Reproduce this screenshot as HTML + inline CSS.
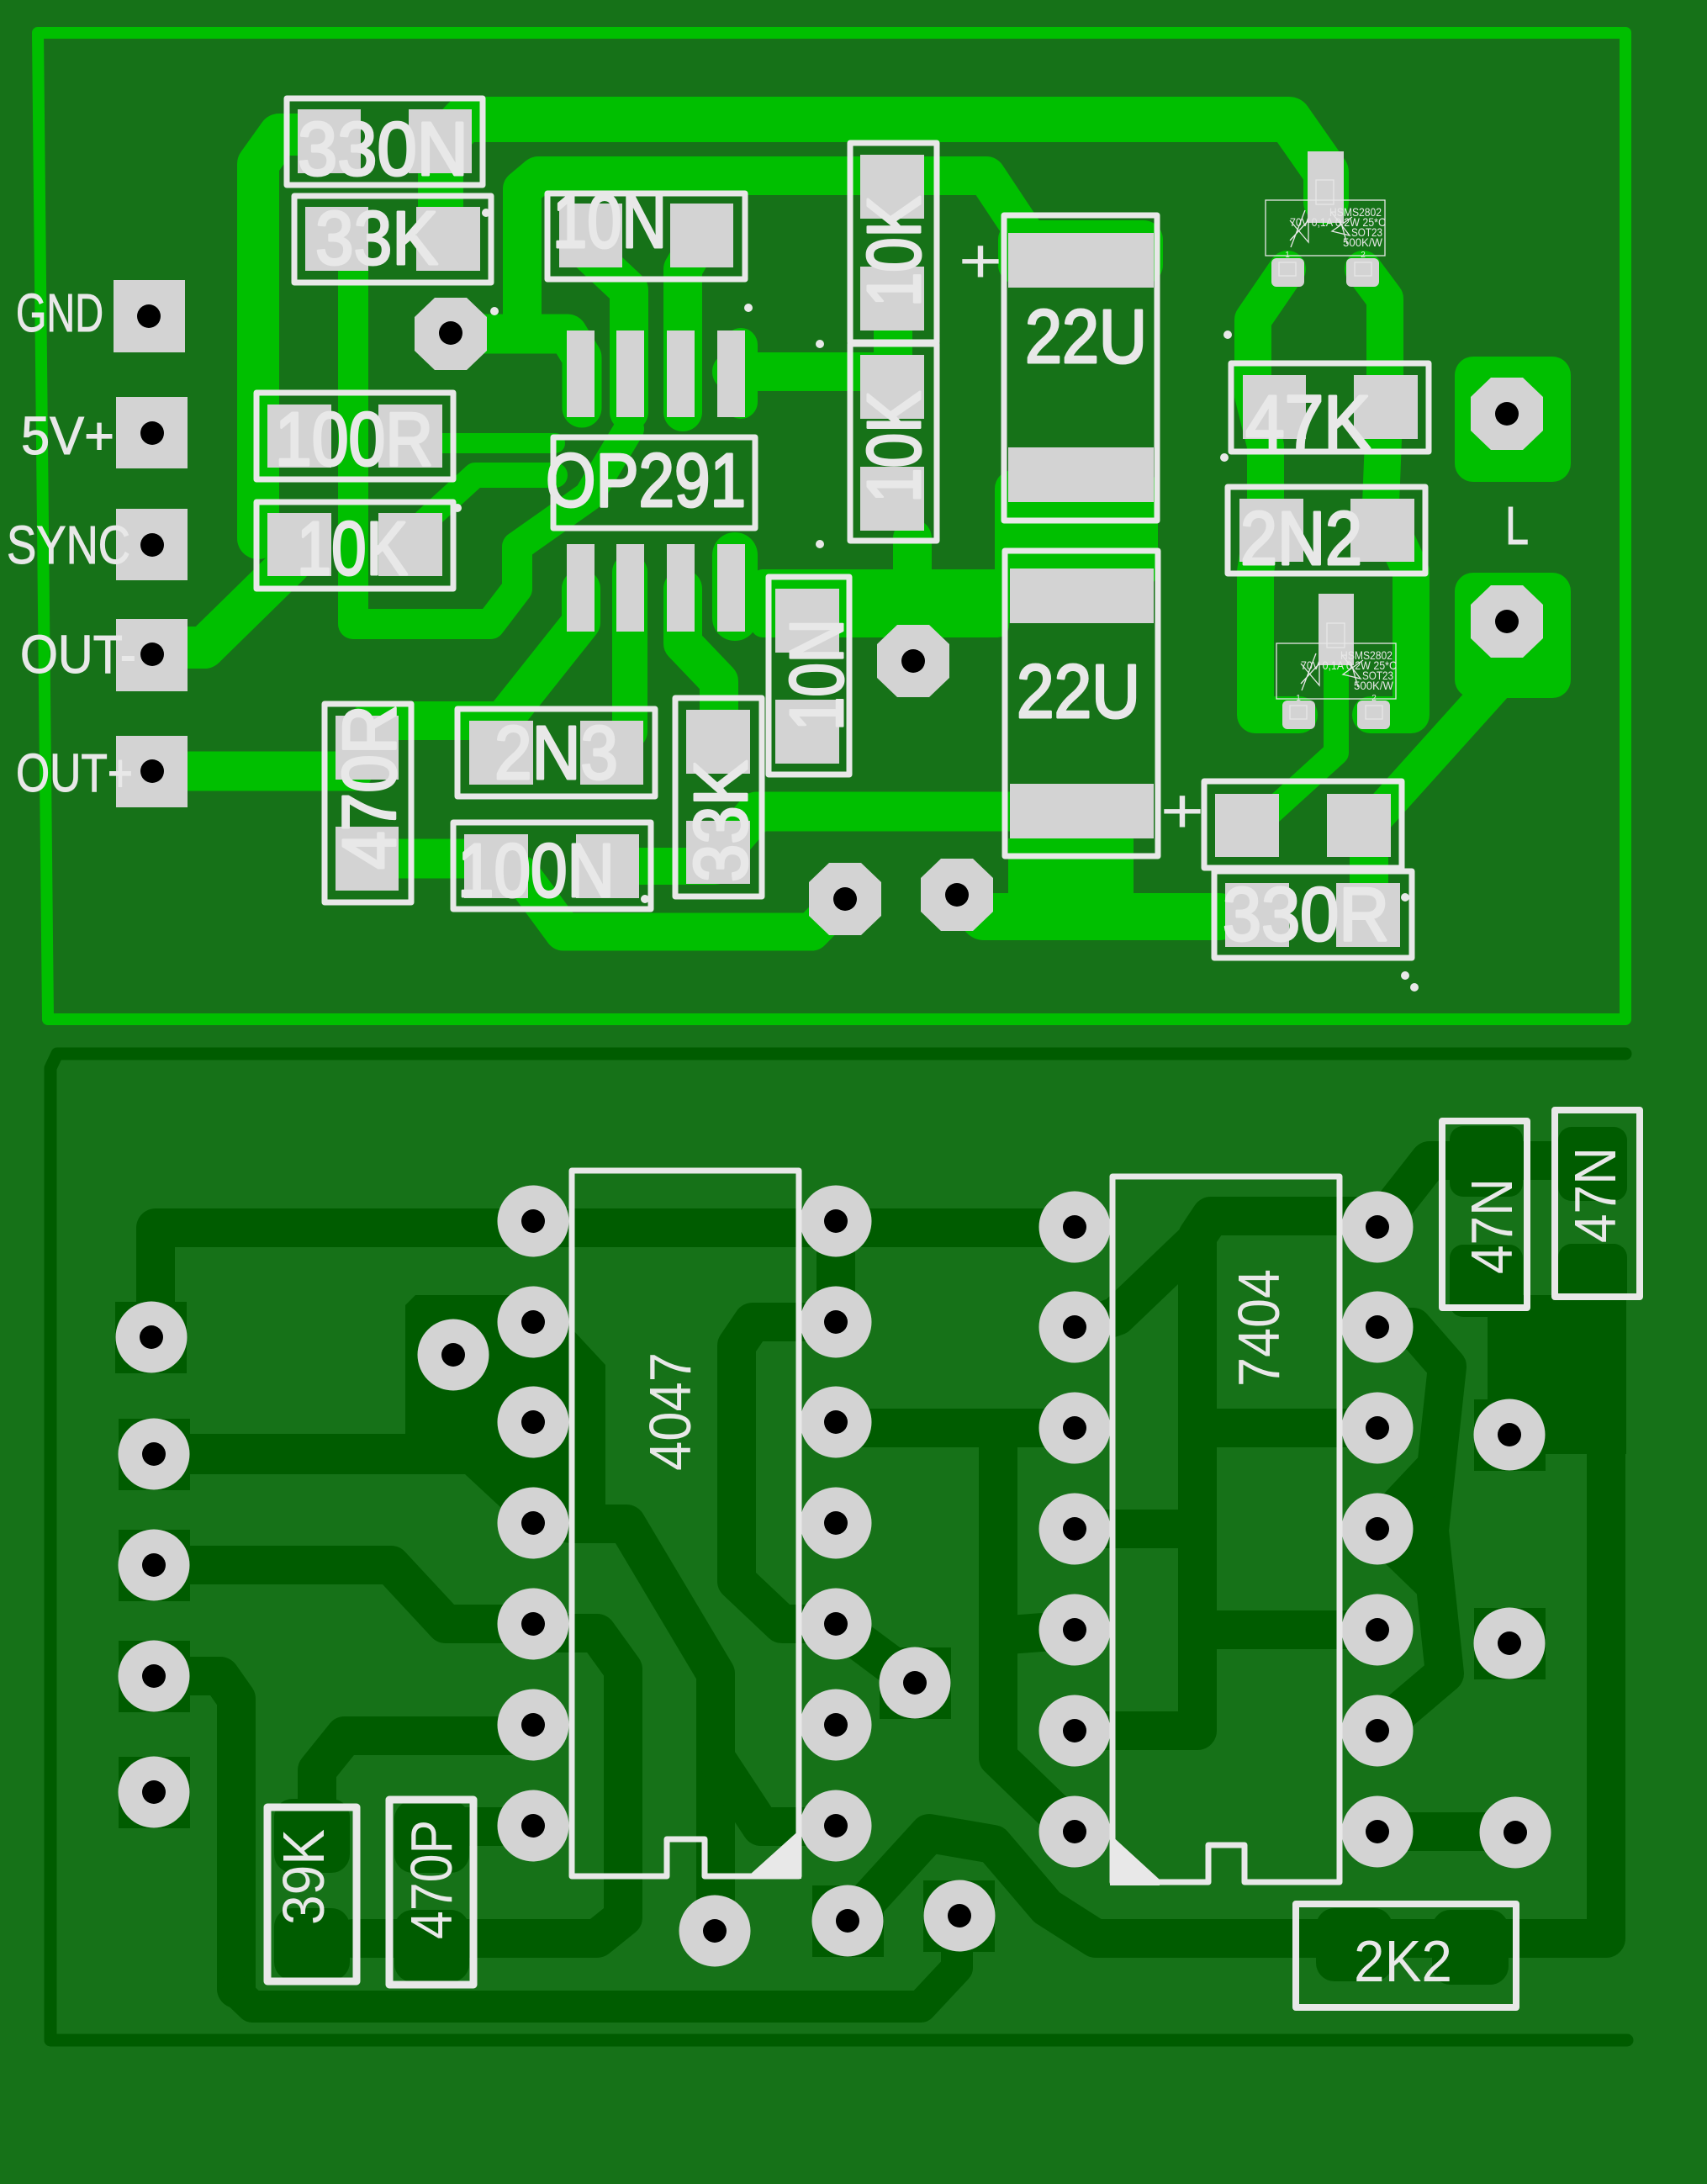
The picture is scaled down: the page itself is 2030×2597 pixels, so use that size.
<!DOCTYPE html>
<html><head><meta charset="utf-8"><title>PCB</title>
<style>
html,body{margin:0;padding:0;background:#167218}
svg{display:block}
text{font-family:"Liberation Sans",sans-serif;fill:#e8e8e8}
</style></head>
<body>
<svg xmlns="http://www.w3.org/2000/svg" width="2030" height="2597" viewBox="0 0 2030 2597">
<defs>
<polygon id="oct" points="-19,-43 19,-43 43,-20 43,20 19,43 -19,43 -43,20 -43,-20"/>
</defs>
<rect width="2030" height="2597" fill="#167218"/>

<!-- bottom board dark copper -->
<g fill="none" stroke="#005c00" stroke-width="46" stroke-linecap="round" stroke-linejoin="round">
<path d="M1933 1253 L68 1253 L60 1270 L60 2426 L1935 2426" stroke-width="15"/>
<path d="M185 1590 L185 1460 L1278 1460"/>
<path d="M994 1452 L994 1571"/>
<path d="M680 1812 L745 1812 L851 1990 L851 2296"/>
<path d="M994 1572 L895 1572 L876 1600 L876 1880 L930 1931 L994 1931"/>
<path d="M994 1931 L1088 2001"/>
<path d="M851 2090 L905 2172 L994 2172"/>
<path d="M183 1861 L465 1861 L530 1931 L634 1931"/>
<path d="M183 1993 L262 1993 L281 2020 L281 2365"/>
<path d="M278 2365 L300 2386 L1095 2386 L1138 2340 L1138 2278" stroke-width="38"/>
<path d="M634 2064 L410 2064 L377 2105 L377 2180"/>
<path d="M514 2172 L634 2172"/>
<path d="M640 1942 L710 1942 L741 1985 L741 2280 L710 2305 L420 2305"/>
<path d="M1278 2058 L1424 2058 L1424 1470 L1440 1446 L1638 1446"/>
<path d="M1290 1578 L1328 1565 L1418 1479"/>
<path d="M1278 1818 L1424 1818"/>
<path d="M1424 1698 L1638 1698"/>
<path d="M1424 1938 L1638 1938"/>
<path d="M994 1692 L1015 1698 L1278 1698"/>
<path d="M1187 1698 L1187 2090 L1278 2178"/>
<path d="M1187 1945 L1278 1938"/>
<path d="M1638 1459 L1700 1380 L1890 1380"/>
<path d="M1638 1578 L1680 1578 L1721 1625 L1700 1820 L1718 1990 L1638 2058"/>
<path d="M1638 1818 L1702 1750"/>
<path d="M1638 1818 L1702 1880"/>
<path d="M1638 2178 L1802 2178"/>
<path d="M1910 1700 L1910 2305 L1303 2305 L1245 2268 L1181 2193 L1105 2180 L1010 2284"/>
</g>
<g fill="#005c00">
<polygon points="482,1552 494,1540 634,1540 680,1580 720,1623 720,1800 680,1835 634,1830 595,1792 553,1753 183,1753 183,1705 482,1705"/>
<rect x="1769" y="1540" width="165" height="189"/>
<rect x="1724" y="1339" width="87" height="84" rx="16"/>
<rect x="1724" y="1480" width="87" height="86" rx="16"/>
<rect x="1853" y="1340" width="82" height="88" rx="16"/>
<rect x="1853" y="1479" width="82" height="75" rx="16"/>
<rect x="326" y="2139" width="90" height="88" rx="22"/>
<rect x="326" y="2269" width="90" height="86" rx="22"/>
<rect x="469" y="2141" width="89" height="86" rx="22"/>
<rect x="469" y="2271" width="89" height="86" rx="22"/>
<rect x="1565" y="2269" width="91" height="87" rx="22"/>
<rect x="1703" y="2271" width="91" height="89" rx="22"/>
<rect x="137" y="1548" width="85" height="85"/>
<rect x="141" y="1687" width="85" height="85"/>
<rect x="141" y="1819" width="85" height="85"/>
<rect x="141" y="1951" width="85" height="85"/>
<rect x="141" y="2089" width="85" height="85"/>
<rect x="1046" y="1959" width="85" height="85"/>
<rect x="966" y="2242" width="85" height="85"/>
<rect x="1098" y="2236" width="85" height="85"/>
<rect x="1753" y="1664" width="85" height="85"/>
<rect x="1753" y="1912" width="85" height="85"/>
</g>

<!-- top board bright copper -->
<g fill="none" stroke="#00bf00" stroke-width="46" stroke-linecap="round" stroke-linejoin="round">
<path d="M45 39 L1933 39 L1933 1212 L57 1212 Z" stroke-width="14"/>
<path d="M524 280 L524 172 L552 142 L1533 142 L1577 205 L1577 240" stroke-width="54"/>
<path d="M400 160 L332 160 L307 195 L307 640" stroke-width="50"/>
<path d="M243 770 L181 770" stroke-width="50"/>
<path d="M243 770 L345 670" stroke-width="50"/>
<path d="M536 397 L675 397 L692 425 L692 485" stroke-width="47"/>
<path d="M621 397 L621 225 L640 209 L1173 209 L1240 310"/>
<rect x="1210" y="285" width="150" height="30" stroke-width="46" stroke-linecap="butt"/>
<path d="M700 300 L748 345 L748 490"/>
<path d="M835 280 L812 320 L812 490"/>
<path d="M881 410 L881 478" stroke-width="40"/>
<path d="M870 442 L1060 442"/>
<path d="M1062 380 L1062 440" stroke-width="46"/>
<path d="M420 320 L420 742 L583 742 L615 700 L615 650 L700 590 L748 510" stroke-width="36"/>
<path d="M525 527 L660 527" stroke-width="24"/>
<path d="M505 620 L565 565 L660 565" stroke-width="30"/>
<path d="M1085 640 L1085 690"/>
<path d="M691 700 L691 740 L598 857 L440 857"/>
<path d="M749 680 L749 870" stroke-width="42"/>
<path d="M812 700 L812 765 L855 810 L855 850"/>
<path d="M874 660 L874 735" stroke-width="54"/>
<path d="M225 917 L420 917" stroke-width="47"/>
<path d="M440 1021 L590 1021" stroke-width="47"/>
<path d="M760 1030 L850 1030" stroke-width="44"/>
<path d="M870 1000 L900 965 L1210 965" stroke-width="47"/>
<path d="M620 1040 L670 1108 L965 1108 L1003 1069" stroke-width="45"/>
<path d="M1531 320 L1490 380 L1490 470 L1505 530 L1505 600 L1493 680 L1493 850 L1545 850" stroke-width="44"/>
<path d="M1621 320 L1647 355 L1647 470 L1642 600 L1678 680 L1678 850 L1630 850" stroke-width="44"/>
<path d="M1589 790 L1589 895 L1490 985" stroke-width="30"/>
<path d="M1782 810 L1620 990" stroke-width="42"/>
<path d="M1628 1000 L1628 1060" stroke-width="46"/>
<path d="M1170 1090 L1450 1090" stroke-width="56"/>
</g>
<g fill="#00bf00">
<rect x="893" y="677" width="307" height="81" rx="14"/>
<rect x="1183" y="559" width="194" height="141" rx="22"/>
<rect x="1183" y="680" width="33" height="61" rx="14"/>
<rect x="1199" y="997" width="149" height="100"/>
<rect x="1730" y="424" width="138" height="149" rx="22"/>
<rect x="1730" y="681" width="138" height="149" rx="22"/>
</g>

<!-- top board pads -->
<g fill="#d3d3d3">
<rect x="354" y="130" width="75" height="76"/><rect x="486" y="130" width="75" height="76"/>
<rect x="363" y="246" width="75" height="76"/><rect x="495" y="246" width="76" height="76"/>
<rect x="665" y="242" width="75" height="76"/><rect x="797" y="242" width="75" height="76"/>
<rect x="318" y="481" width="76" height="75"/><rect x="450" y="481" width="76" height="75"/>
<rect x="318" y="610" width="76" height="75"/><rect x="450" y="610" width="76" height="75"/>
<rect x="674" y="393" width="33" height="103"/><rect x="733" y="393" width="33" height="103"/>
<rect x="793" y="393" width="33" height="103"/><rect x="853" y="393" width="33" height="103"/>
<rect x="674" y="647" width="33" height="104"/><rect x="733" y="647" width="33" height="104"/>
<rect x="793" y="647" width="33" height="104"/><rect x="853" y="647" width="33" height="104"/>
<rect x="1023" y="184" width="76" height="76"/><rect x="1023" y="317" width="76" height="76"/>
<rect x="1023" y="422" width="76" height="76"/><rect x="1023" y="555" width="76" height="76"/>
<rect x="1199" y="277" width="173" height="65"/><rect x="1199" y="532" width="173" height="65"/>
<rect x="1201" y="676" width="171" height="65"/><rect x="1201" y="932" width="171" height="65"/>
<rect x="1445" y="944" width="76" height="75"/><rect x="1578" y="944" width="76" height="75"/>
<rect x="1457" y="1050" width="76" height="76"/><rect x="1589" y="1050" width="76" height="76"/>
<rect x="1478" y="446" width="75" height="76"/><rect x="1610" y="446" width="76" height="76"/>
<rect x="1474" y="593" width="76" height="75"/><rect x="1606" y="593" width="76" height="75"/>
<rect x="399" y="851" width="75" height="76"/><rect x="399" y="983" width="75" height="76"/>
<rect x="558" y="857" width="76" height="76"/><rect x="690" y="857" width="75" height="76"/>
<rect x="552" y="992" width="76" height="76"/><rect x="685" y="992" width="75" height="76"/>
<rect x="816" y="844" width="76" height="76"/><rect x="816" y="976" width="76" height="75"/>
<rect x="922" y="700" width="76" height="76"/><rect x="922" y="832" width="76" height="76"/>
<rect x="135" y="333" width="85" height="86"/><rect x="138" y="472" width="85" height="85"/>
<rect x="138" y="605" width="85" height="85"/><rect x="138" y="736" width="85" height="86"/>
<rect x="138" y="875" width="85" height="85"/>
<rect x="1555" y="180" width="43" height="85"/>
<rect x="1512" y="307" width="39" height="34" rx="6"/><rect x="1601" y="307" width="39" height="34" rx="6"/>
<rect x="1568" y="706" width="42" height="85"/>
<rect x="1525" y="833" width="39" height="34" rx="6"/><rect x="1614" y="833" width="39" height="34" rx="6"/>
<use href="#oct" x="536" y="397"/><use href="#oct" x="1792" y="492"/><use href="#oct" x="1792" y="739"/>
<use href="#oct" x="1086" y="786"/><use href="#oct" x="1138" y="1064"/><use href="#oct" x="1005" y="1069"/>
<!-- bottom round pads -->
<circle cx="634" cy="1452" r="42.5"/><circle cx="634" cy="1572" r="42.5"/><circle cx="634" cy="1691" r="42.5"/><circle cx="634" cy="1811" r="42.5"/><circle cx="634" cy="1931" r="42.5"/><circle cx="634" cy="2051" r="42.5"/><circle cx="634" cy="2171" r="42.5"/>
<circle cx="994" cy="1452" r="42.5"/><circle cx="994" cy="1572" r="42.5"/><circle cx="994" cy="1691" r="42.5"/><circle cx="994" cy="1811" r="42.5"/><circle cx="994" cy="1931" r="42.5"/><circle cx="994" cy="2051" r="42.5"/><circle cx="994" cy="2171" r="42.5"/>
<circle cx="1278" cy="1459" r="42.5"/><circle cx="1278" cy="1578" r="42.5"/><circle cx="1278" cy="1698" r="42.5"/><circle cx="1278" cy="1818" r="42.5"/><circle cx="1278" cy="1938" r="42.5"/><circle cx="1278" cy="2058" r="42.5"/><circle cx="1278" cy="2178" r="42.5"/>
<circle cx="1638" cy="1459" r="42.5"/><circle cx="1638" cy="1578" r="42.5"/><circle cx="1638" cy="1698" r="42.5"/><circle cx="1638" cy="1818" r="42.5"/><circle cx="1638" cy="1938" r="42.5"/><circle cx="1638" cy="2058" r="42.5"/><circle cx="1638" cy="2178" r="42.5"/>
<circle cx="180" cy="1590" r="42.5"/><circle cx="183" cy="1729" r="42.5"/><circle cx="183" cy="1861" r="42.5"/><circle cx="183" cy="1993" r="42.5"/><circle cx="183" cy="2131" r="42.5"/>
<circle cx="539" cy="1611" r="42.5"/><circle cx="850" cy="2296" r="42.5"/><circle cx="1008" cy="2284" r="42.5"/><circle cx="1141" cy="2278" r="42.5"/>
<circle cx="1088" cy="2001" r="42.5"/><circle cx="1795" cy="1706" r="42.5"/><circle cx="1795" cy="1954" r="42.5"/><circle cx="1802" cy="2179" r="42.5"/>
</g>

<!-- holes -->
<g fill="#000">
<circle cx="177" cy="376" r="14"/><circle cx="181" cy="515" r="14"/><circle cx="181" cy="648" r="14"/><circle cx="181" cy="778" r="14"/><circle cx="181" cy="917" r="14"/>
<circle cx="536" cy="396" r="14"/><circle cx="1792" cy="492" r="14"/><circle cx="1792" cy="739" r="14"/><circle cx="1086" cy="786" r="14"/><circle cx="1138" cy="1064" r="14"/><circle cx="1005" cy="1069" r="14"/>
<circle cx="634" cy="1452" r="14"/><circle cx="634" cy="1572" r="14"/><circle cx="634" cy="1691" r="14"/><circle cx="634" cy="1811" r="14"/><circle cx="634" cy="1931" r="14"/><circle cx="634" cy="2051" r="14"/><circle cx="634" cy="2171" r="14"/>
<circle cx="994" cy="1452" r="14"/><circle cx="994" cy="1572" r="14"/><circle cx="994" cy="1691" r="14"/><circle cx="994" cy="1811" r="14"/><circle cx="994" cy="1931" r="14"/><circle cx="994" cy="2051" r="14"/><circle cx="994" cy="2171" r="14"/>
<circle cx="1278" cy="1459" r="14"/><circle cx="1278" cy="1578" r="14"/><circle cx="1278" cy="1698" r="14"/><circle cx="1278" cy="1818" r="14"/><circle cx="1278" cy="1938" r="14"/><circle cx="1278" cy="2058" r="14"/><circle cx="1278" cy="2178" r="14"/>
<circle cx="1638" cy="1459" r="14"/><circle cx="1638" cy="1578" r="14"/><circle cx="1638" cy="1698" r="14"/><circle cx="1638" cy="1818" r="14"/><circle cx="1638" cy="1938" r="14"/><circle cx="1638" cy="2058" r="14"/><circle cx="1638" cy="2178" r="14"/>
<circle cx="180" cy="1590" r="14"/><circle cx="183" cy="1729" r="14"/><circle cx="183" cy="1861" r="14"/><circle cx="183" cy="1993" r="14"/><circle cx="183" cy="2131" r="14"/>
<circle cx="539" cy="1611" r="14"/><circle cx="850" cy="2296" r="14"/><circle cx="1008" cy="2284" r="14"/><circle cx="1141" cy="2278" r="14"/>
<circle cx="1088" cy="2001" r="14"/><circle cx="1795" cy="1706" r="14"/><circle cx="1795" cy="1954" r="14"/><circle cx="1802" cy="2179" r="14"/>
</g>

<!-- silk outlines -->
<g fill="none" stroke="#e8e8e8" stroke-width="7" stroke-linejoin="round">
<rect x="341" y="117" width="233" height="103"/>
<rect x="350" y="233" width="234" height="103"/>
<rect x="651" y="230" width="235" height="102"/>
<rect x="305" y="467" width="234" height="103"/>
<rect x="305" y="597" width="234" height="103"/>
<rect x="658" y="520" width="240" height="108"/>
<rect x="1011" y="170" width="103" height="237"/>
<rect x="1011" y="409" width="103" height="234"/>
<rect x="1194" y="256" width="182" height="363"/>
<rect x="1195" y="655" width="182" height="363"/>
<rect x="1432" y="929" width="235" height="103"/>
<rect x="1444" y="1036" width="235" height="103"/>
<rect x="1464" y="432" width="235" height="105"/>
<rect x="1460" y="579" width="235" height="103"/>
<rect x="386" y="837" width="103" height="236"/>
<rect x="544" y="843" width="235" height="104"/>
<rect x="539" y="978" width="235" height="103"/>
<rect x="803" y="830" width="103" height="236"/>
<rect x="914" y="686" width="96" height="235"/>
<rect x="1715" y="1333" width="101" height="222" stroke-width="8"/>
<rect x="1849" y="1320" width="101" height="222" stroke-width="8"/>
<rect x="318" y="2149" width="106" height="207" stroke-width="9"/>
<rect x="463" y="2140" width="100" height="220" stroke-width="9"/>
<rect x="1541" y="2264" width="262" height="123" stroke-width="8"/>
<path d="M680 1392 H950 V2231 H838 V2187 H793 V2231 H680 Z"/>
<path d="M1323 1399 H1593 V2238 H1480 V2194 H1437 V2238 H1323 Z"/>
</g>
<polygon points="893,2228 953,2174 953,2234 893,2234" fill="#e8e8e8"/>
<polygon points="1320,2181 1379,2235 1379,2242 1320,2242" fill="#e8e8e8"/>

<!-- dots -->
<g fill="#e8e8e8">
<circle cx="588" cy="370" r="5"/><circle cx="890" cy="366" r="5"/><circle cx="975" cy="409" r="5"/><circle cx="578" cy="253" r="5"/>
<circle cx="1460" cy="398" r="5"/><circle cx="1456" cy="544" r="5"/><circle cx="975" cy="647" r="5"/><circle cx="1671" cy="1067" r="5"/>
<circle cx="1671" cy="1160" r="5"/><circle cx="1682" cy="1174" r="5"/><circle cx="767" cy="1069" r="5"/><circle cx="544" cy="604" r="5"/>
</g>

<!-- transistor 1 -->
<g fill="none" stroke="#e8e8e8" stroke-width="1.3">
<rect x="1505" y="238" width="142" height="66"/>
<rect x="1565" y="214" width="21" height="29"/><rect x="1521" y="312" width="20" height="16"/><rect x="1611" y="312" width="20" height="16"/>
<path d="M1534 262 L1556 288 L1556 262 L1534 286 M1552 250 L1535 294 M1583 252 L1605 280 L1584 275 L1608 258 M1594 262 L1602 290"/>
</g>
<g style="font-size:14px">
<text x="1581" y="257" textLength="62" lengthAdjust="spacingAndGlyphs">HSMS2802</text>
<text x="1534" y="269" textLength="114" lengthAdjust="spacingAndGlyphs">70V 0,1A 0,2W 25*C</text>
<text x="1607" y="281" textLength="37" lengthAdjust="spacingAndGlyphs">SOT23</text>
<text x="1597" y="293" textLength="47" lengthAdjust="spacingAndGlyphs">500K/W</text>
<text x="1531" y="306" text-anchor="middle" style="font-size:10px">1</text>
<text x="1621" y="306" text-anchor="middle" style="font-size:10px">2</text>
</g>
<!-- transistor 2 -->
<g transform="translate(13,527)">
<g fill="none" stroke="#e8e8e8" stroke-width="1.3">
<rect x="1505" y="238" width="142" height="66"/>
<rect x="1565" y="214" width="21" height="29"/><rect x="1521" y="312" width="20" height="16"/><rect x="1611" y="312" width="20" height="16"/>
<path d="M1534 262 L1556 288 L1556 262 L1534 286 M1552 250 L1535 294 M1583 252 L1605 280 L1584 275 L1608 258 M1594 262 L1602 290"/>
</g>
<g style="font-size:14px">
<text x="1581" y="257" textLength="62" lengthAdjust="spacingAndGlyphs">HSMS2802</text>
<text x="1534" y="269" textLength="114" lengthAdjust="spacingAndGlyphs">70V 0,1A 0,2W 25*C</text>
<text x="1607" y="281" textLength="37" lengthAdjust="spacingAndGlyphs">SOT23</text>
<text x="1597" y="293" textLength="47" lengthAdjust="spacingAndGlyphs">500K/W</text>
<text x="1531" y="306" text-anchor="middle" style="font-size:10px">1</text>
<text x="1621" y="306" text-anchor="middle" style="font-size:10px">2</text>
</g>
</g>

<!-- labels top -->
<g font-size="90" stroke="#e8e8e8" stroke-width="3" stroke-linejoin="round">
<text x="354" y="208" textLength="203" lengthAdjust="spacingAndGlyphs">330N</text>
<text x="375" y="314" textLength="146" lengthAdjust="spacingAndGlyphs">33K</text>
<text x="657" y="294" textLength="136" lengthAdjust="spacingAndGlyphs">10N</text>
<text x="327" y="553" textLength="188" lengthAdjust="spacingAndGlyphs">100R</text>
<text x="353" y="683" textLength="132" lengthAdjust="spacingAndGlyphs">10K</text>
<text x="649" y="602" textLength="238" lengthAdjust="spacingAndGlyphs">OP291</text>
<text x="1219" y="431" textLength="145" lengthAdjust="spacingAndGlyphs">22U</text>
<text x="1209" y="853" textLength="147" lengthAdjust="spacingAndGlyphs">22U</text>
<text x="1454" y="1118" textLength="198" lengthAdjust="spacingAndGlyphs">330R</text>
<text x="1481" y="533" textLength="149" lengthAdjust="spacingAndGlyphs">47K</text>
<text x="1475" y="671" textLength="145" lengthAdjust="spacingAndGlyphs">2N2</text>
<text x="588" y="926" textLength="147" lengthAdjust="spacingAndGlyphs">2N3</text>
<text x="544" y="1066" textLength="187" lengthAdjust="spacingAndGlyphs">100N</text>
<text transform="translate(1094,365) rotate(-90)" textLength="132" lengthAdjust="spacingAndGlyphs">10K</text>
<text transform="translate(1094,598) rotate(-90)" textLength="133" lengthAdjust="spacingAndGlyphs">10K</text>
<text transform="translate(470,1034) rotate(-90)" textLength="196" lengthAdjust="spacingAndGlyphs">470R</text>
<text transform="translate(888,1049) rotate(-90)" textLength="145" lengthAdjust="spacingAndGlyphs">33K</text>
<text transform="translate(1002,869) rotate(-90)" textLength="133" lengthAdjust="spacingAndGlyphs">10N</text>
</g>
<g font-size="64" stroke="#e8e8e8" stroke-width="1">
<text x="19" y="394" textLength="104" lengthAdjust="spacingAndGlyphs">GND</text>
<text x="25" y="540" textLength="111" lengthAdjust="spacingAndGlyphs">5V+</text>
<text x="8" y="670" textLength="147" lengthAdjust="spacingAndGlyphs">SYNC</text>
<text x="24" y="800" textLength="138" lengthAdjust="spacingAndGlyphs">OUT-</text>
<text x="19" y="941" textLength="139" lengthAdjust="spacingAndGlyphs">OUT+</text>
<text x="1790" y="647" textLength="28" lengthAdjust="spacingAndGlyphs">L</text>
</g>
<g font-size="76">
<text x="1140" y="336" textLength="52" lengthAdjust="spacingAndGlyphs">+</text>
<text x="1380" y="990" textLength="52" lengthAdjust="spacingAndGlyphs">+</text>
</g>

<!-- labels bottom -->
<g font-size="70">
<text transform="translate(821,1749) rotate(-90)" textLength="141" lengthAdjust="spacingAndGlyphs">4047</text>
<text transform="translate(1521,1649) rotate(-90)" textLength="140" lengthAdjust="spacingAndGlyphs">7404</text>
<text transform="translate(1798,1515) rotate(-90)" textLength="114" lengthAdjust="spacingAndGlyphs">47N</text>
<text transform="translate(1921,1478) rotate(-90)" textLength="114" lengthAdjust="spacingAndGlyphs">47N</text>
<text transform="translate(385,2289) rotate(-90)" textLength="114" lengthAdjust="spacingAndGlyphs">39K</text>
<text transform="translate(537,2306) rotate(-90)" textLength="142" lengthAdjust="spacingAndGlyphs">470P</text>
<text x="1610" y="2356" textLength="117" lengthAdjust="spacingAndGlyphs">2K2</text>
</g>
</svg>
</body></html>
